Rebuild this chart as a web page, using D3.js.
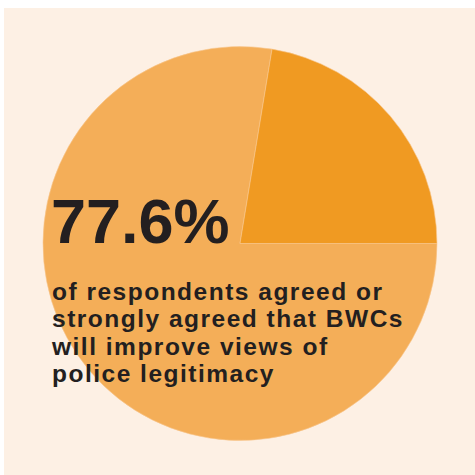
<!DOCTYPE html>
<html>

<head>
    <meta charset="utf-8" />
    <title>BWC legitimacy</title>
    <script src="https://cdn.jsdelivr.net/npm/d3@7/dist/d3.min.js" charset="utf-8"></script>

    <style type="text/css">
        body {
            margin: 0;
            background: #ffffff;
        }

        #chart .big {
            font-family: "Liberation Sans", Arial, sans-serif;
            font-weight: bold;
            font-size: 63px;
            fill: #231f20;
        }

        #chart .note {
            font-family: "Liberation Sans", Arial, sans-serif;
            font-weight: bold;
            font-size: 24.5px;
            letter-spacing: 1.5px;
            fill: #231f20;
        }
    </style>
</head>

<body>

    <div id="chart"></div>

    <script>
        // Data:
        var categories = ["Agreed or strongly agreed", "Other"]
        var shares = [77.6, 22.4]
        var colors = ["#f4ae58", "#f09a22"]
        var headline = "77.6%"
        var noteLines = [
            "of respondents agreed or",
            "strongly agreed that BWCs",
            "will improve views of",
            "police legitimacy"
        ]

        var width = 475,
            height = 475,
            cx = 240,
            cy = 243.5,
            radius = 197

        var svg = d3.select("#chart")
            .append("svg")
            .attr("width", width)
            .attr("height", height)

        // Cream panel
        svg.append("rect")
            .attr("x", 4)
            .attr("y", 8)
            .attr("width", width - 4)
            .attr("height", height - 8)
            .attr("fill", "#fdf0e4")

        // Pie: light slice starts at 3 o'clock, dark slice ends there
        var pie = d3.pie()
            .sort(null)
            .startAngle(Math.PI / 2)
            .endAngle(Math.PI / 2 + 2 * Math.PI)

        var arc = d3.arc()
            .innerRadius(0)
            .outerRadius(radius)

        var g = svg.append("g")
            .attr("transform", "translate(" + cx + ", " + cy + ")")

        g.selectAll("path")
            .data(pie(shares))
            .enter()
            .append("path")
            .attr("d", arc)
            .attr("fill", function(d, i) {
                return colors[i]
            })
            .attr("stroke", "#f8c890")
            .attr("stroke-width", 0.6)
            .append("title")
            .text(function(d, i) {
                return categories[i] + ": " + shares[i] + "%"
            })

        // Text
        svg.append("text")
            .attr("class", "big")
            .attr("x", 51)
            .attr("y", 243)
            .text(headline)

        svg.append("g")
            .selectAll("text")
            .data(noteLines)
            .enter()
            .append("text")
            .attr("class", "note")
            .attr("x", 52)
            .attr("y", function(d, i) {
                return 299.5 + i * 27.5
            })
            .text(function(d) {
                return d
            })
    </script>

</body>

</html>
